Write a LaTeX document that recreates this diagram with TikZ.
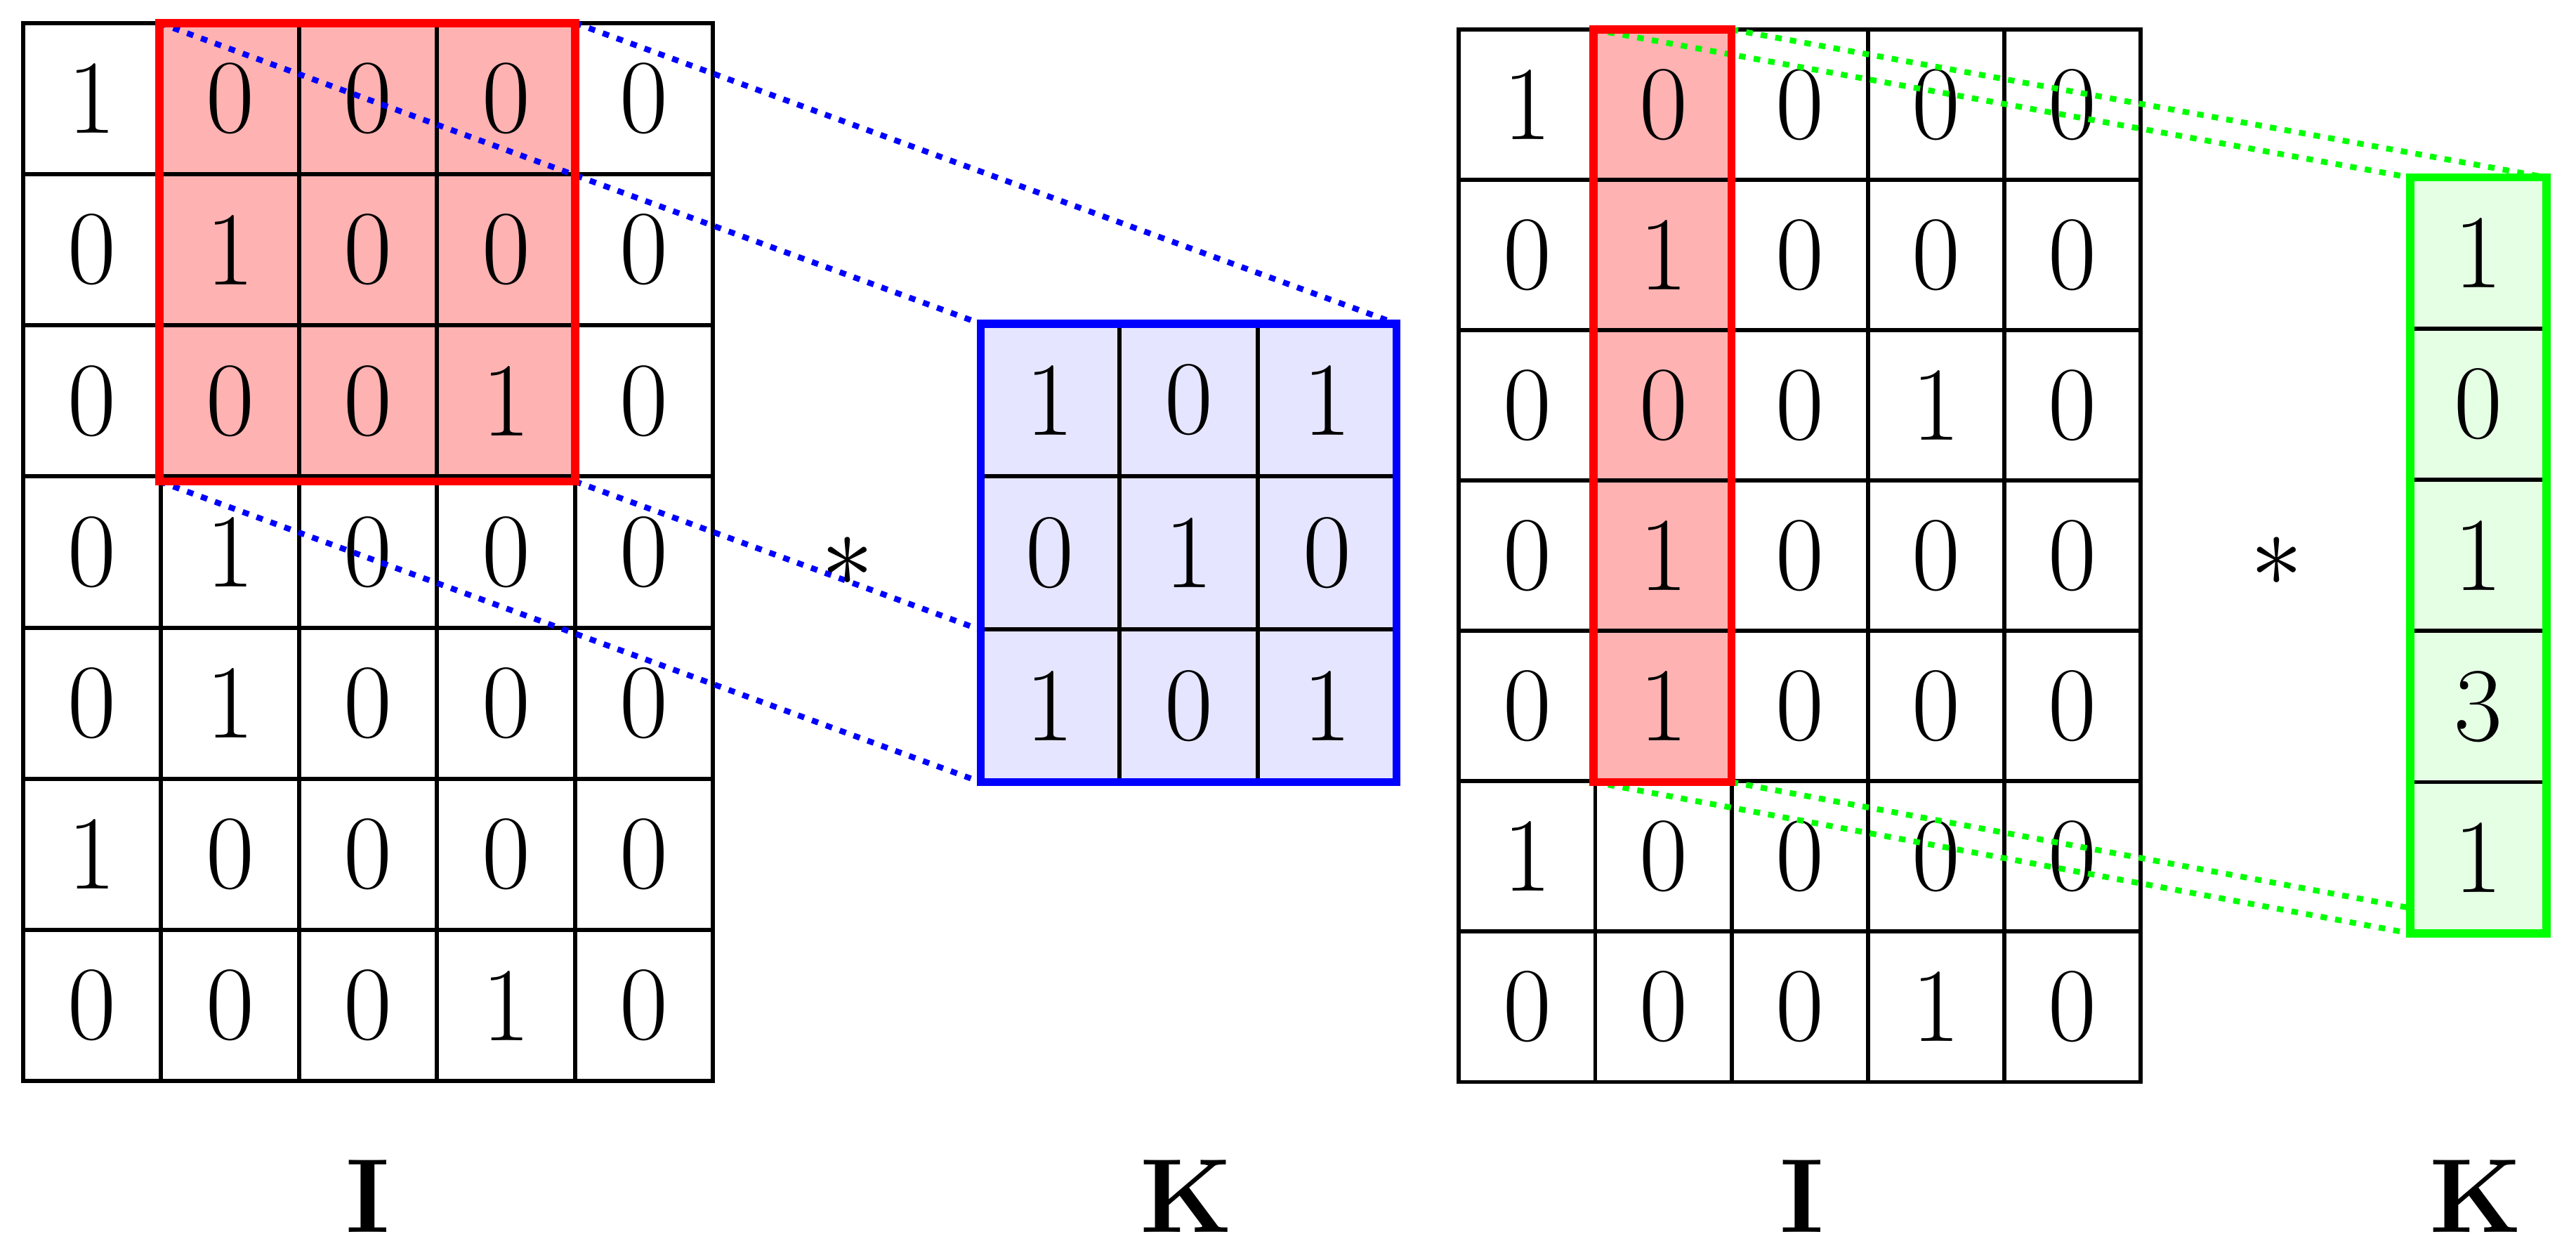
\documentclass[tikz,border=0pt]{standalone}
\usepackage{graphicx}
\begin{document}
\begin{tikzpicture}[x=1pt,y=-1pt,
  cell/.style={draw=black,line width=2.5pt,inner sep=0pt,font=\fontsize{64}{66}\selectfont},
  dotb/.style={blue,line width=3.5pt,dash pattern=on 4pt off 5pt},
  dotg/.style={green,line width=3.5pt,dash pattern=on 4pt off 5pt},
  lab/.style={font=\fontsize{64}{66}\selectfont\bfseries}]
\useasboundingbox (0,0) rectangle (1568,758);
\def\vals{{{1,0,0,0,0},{0,1,0,0,0},{0,0,0,1,0},{0,1,0,0,0},{0,1,0,0,0},{1,0,0,0,0},{0,0,0,1,0}}}
\coordinate (rtl) at (97,14); \coordinate (rtr) at (350,14);
\coordinate (rbl) at (97,293); \coordinate (rbr) at (350,293);
\coordinate (btl) at (597,197); \coordinate (btr) at (850,197);
\coordinate (bbl) at (597,476); \coordinate (bbr) at (850,476);
\coordinate (gtl) at (970,18); \coordinate (gtr) at (1054,18);
\coordinate (gbl) at (970,476); \coordinate (gbr) at (1054,476);
\coordinate (ktl) at (1467,108); \coordinate (ktr) at (1550,108);
\coordinate (kbl) at (1467,568); \coordinate (kbr) at (1550,568);
% left grid
\fill[red!30] (rtl) rectangle (rbr);
\foreach \r in {0,...,6}{\foreach \c in {0,...,4}{
  \pgfmathtruncatemacro{\v}{\vals[\r][\c]}
  \node[cell,minimum width=84pt,minimum height=92pt] (L-\r-\c) at ({14+42+84*\c},{14+46+92*\r}) {\v};}}
% right grid
\fill[red!30] (gtl) rectangle (gbr);
\foreach \r in {0,...,6}{\foreach \c in {0,...,4}{
  \pgfmathtruncatemacro{\v}{\vals[\r][\c]}
  \node[cell,minimum width=83pt,minimum height=91.5pt] (R-\r-\c) at ({888+41.5+83*\c},{18+45.75+91.5*\r}) {\v};}}
% connectors over the grids
\draw[dotb] (rtl)--(btl); \draw[dotb] (rtr)--(btr);
\draw[dotb] (rbl)--(bbl); \draw[dotb] (rbr)--(bbr);
\draw[dotg] (gtl)--(ktl); \draw[dotg] (gtr)--(ktr);
\draw[dotg] (gbl)--(kbl); \draw[dotg] (gbr)--(kbr);
\draw[red,line width=5pt] (rtl) rectangle (rbr);
\draw[red,line width=5pt] (gtl) rectangle (gbr);
% blue kernel
\fill[blue!10] (btl) rectangle (bbr);
\foreach \r/\c/\v in {0/0/1,0/1/0,0/2/1,1/0/0,1/1/1,1/2/0,2/0/1,2/1/0,2/2/1}{
  \node[cell,minimum width=84.3pt,minimum height=93pt] (B-\r-\c) at ({597+42.2+84.3*\c},{197+46.5+93*\r}) {\v};}
\draw[blue,line width=5pt] (btl) rectangle (bbr);
% green kernel
\fill[green!10] (ktl) rectangle (kbr);
\foreach \r/\v in {0/1,1/0,2/1,3/3,4/1}{
  \node[cell,minimum width=83pt,minimum height=92pt] (G-\r) at (1508.5,{108+46+92*\r}) {\v};}
\draw[green,line width=5pt] (ktl) rectangle (kbr);
% labels
\node (s1) at (516,342) {\scalebox{6.4}{$\ast$}};
\node (s2) at (1386,342) {\scalebox{6.4}{$\ast$}};
\node[lab] (I1) at (224,728) {I};
\node[lab] (K1) at (722,728) {K};
\node[lab] (I2) at (1097,728) {I};
\node[lab] (K2) at (1507,728) {K};
\end{tikzpicture}
\end{document}
